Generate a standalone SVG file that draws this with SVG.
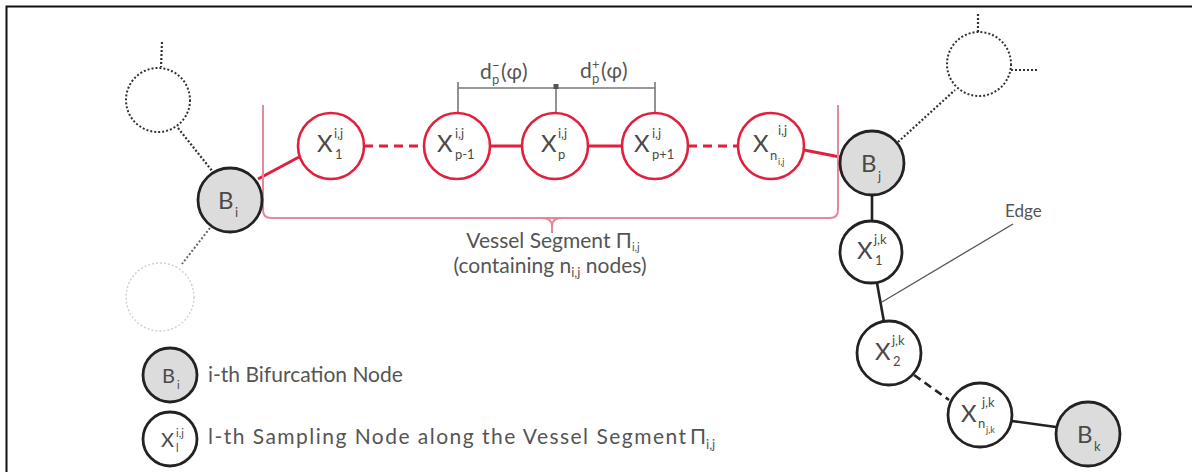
<svg xmlns="http://www.w3.org/2000/svg" width="1192" height="472" viewBox="0 0 1192 472">
<style>
.bg{fill:#fff}
.frame{stroke:#111;stroke-width:2;fill:none}
.rn{fill:#fff;stroke:#e0203c;stroke-width:2.6}
.kn{fill:#fff;stroke:#222;stroke-width:2.8}
.bn{fill:#dcdcdc;stroke:#222;stroke-width:2.8}
.dn{fill:none;stroke:#333;stroke-width:2;stroke-dasharray:2 2}
.fn{fill:none;stroke:#cfcfcf;stroke-width:1.4;stroke-dasharray:2 2}
.rl{stroke:#e0203c;stroke-width:3;fill:none}
.rd{stroke:#e0203c;stroke-width:3;fill:none;stroke-dasharray:9 6}
.kl{stroke:#222;stroke-width:2.6;fill:none}
.kd{stroke:#222;stroke-width:2.6;fill:none;stroke-dasharray:8 5}
.dl{stroke:#333;stroke-width:2.2;fill:none;stroke-dasharray:2 2}
.dlf{stroke:#666;stroke-width:2;fill:none;stroke-dasharray:2 2}
.br{stroke:#e8869c;stroke-width:2;fill:none}
.dim{stroke:#777;stroke-width:1.6;fill:none}
.ptr{stroke:#555;stroke-width:1.3;fill:none}
text{font-family:Lato,"Open Sans","Liberation Sans",sans-serif;fill:#4a4a4a}
.L{font-size:24px}
.s{font-size:13px}
.t{font-size:21px;fill:#555}
.e{font-size:17px;fill:#555}
</style>
<rect class="bg" x="0" y="0" width="1192" height="472"/>
<path class="frame" d="M6.5,472 V6.5 H1192"/>

<g id="connectors">
  <line class="dl" x1="162" y1="42" x2="161" y2="67"/>
  <line class="dl" x1="178" y1="128" x2="213" y2="172"/>
  <line class="dlf" x1="210" y1="228" x2="182" y2="264"/>
  <line class="rl" x1="258" y1="179" x2="299" y2="157"/>
  <line class="rd" x1="364" y1="146" x2="424" y2="146"/>
  <line class="rl" x1="490" y1="146" x2="522" y2="146"/>
  <line class="rl" x1="588" y1="146" x2="622" y2="146"/>
  <line class="rd" x1="688" y1="146" x2="738" y2="146"/>
  <line class="rl" x1="804" y1="150" x2="840" y2="157"/>
  <line class="dl" x1="898" y1="142" x2="955" y2="90"/>
  <line class="dl" x1="978" y1="14" x2="978" y2="32"/>
  <line class="dl" x1="1011" y1="70" x2="1038" y2="70"/>
  <line class="kl" x1="872" y1="195" x2="872" y2="221"/>
  <line class="kl" x1="877" y1="283" x2="884" y2="322"/>
  <line class="kd" x1="914" y1="375" x2="949" y2="400"/>
  <line class="kl" x1="1012" y1="421" x2="1056" y2="427"/>
</g>

<g id="bracket">
  <path class="br" d="M263,105 V210 Q263,218 271,218 H830 Q838,218 838,210 V105"/>
  <path class="br" d="M542,218 Q552,218 552,226 V233 M562,218 Q552,218 552,226"/>
</g>

<g id="dimension">
  <line class="dim" x1="458" y1="88" x2="655" y2="88"/>
  <line class="dim" x1="458" y1="82" x2="458" y2="113"/>
  <line class="dim" x1="556" y1="86" x2="556" y2="113"/>
  <line class="dim" x1="655" y1="82" x2="655" y2="113"/>
  <rect x="553.5" y="84" width="5" height="5" fill="#555"/>
  <text class="t" y="79"><tspan x="480">d</tspan><tspan class="s" x="492" dy="-9">−</tspan><tspan class="s" x="492" dy="14">p</tspan><tspan x="501" dy="-5">(φ)</tspan></text>
  <text class="t" y="78"><tspan x="580">d</tspan><tspan class="s" x="592" dy="-9">+</tspan><tspan class="s" x="592" dy="14">p</tspan><tspan x="601" dy="-5">(φ)</tspan></text>
</g>

<g id="ghost-tl">
  <circle class="dn" cx="158" cy="100" r="32"/>
</g>
<g id="ghost-bl">
  <circle class="fn" cx="160" cy="297" r="34"/>
</g>
<g id="ghost-tr">
  <circle class="dn" cx="979" cy="64" r="32"/>
</g>

<g id="Bi">
  <circle class="bn" cx="230" cy="200" r="32"/>
  <text class="L" x="218" y="209">B</text><text class="s" x="235" y="217">i</text>
</g>

<g id="X1ij">
  <circle class="rn" cx="331" cy="146" r="33"/>
  <text class="L" x="317" y="152">X</text><text class="s" x="334" y="138">i,j</text><text class="s" x="335" y="159">1</text>
</g>
<g id="Xpm1ij">
  <circle class="rn" cx="457" cy="146" r="33"/>
  <text class="L" x="437" y="152">X</text><text class="s" x="455" y="138">i,j</text><text class="s" x="455" y="159">p-1</text>
</g>
<g id="Xpij">
  <circle class="rn" cx="555" cy="146" r="33"/>
  <text class="L" x="541" y="152">X</text><text class="s" x="558" y="138">i,j</text><text class="s" x="558" y="159">p</text>
</g>
<g id="Xpp1ij">
  <circle class="rn" cx="655" cy="146" r="33"/>
  <text class="L" x="634" y="152">X</text><text class="s" x="652" y="138">i,j</text><text class="s" x="652" y="159">p+1</text>
</g>
<g id="Xnij">
  <circle class="rn" cx="771" cy="146" r="33"/>
  <text class="L" x="753" y="152">X</text><text class="s" x="778" y="135">i,j</text><text class="s" x="770" y="160">n</text><text style="font-size:9px" x="778" y="165">i,j</text>
</g>

<g id="Bj">
  <circle class="bn" cx="872" cy="163" r="32"/>
  <text class="L" x="861" y="172">B</text><text class="s" x="878" y="181">j</text>
</g>

<g id="X1jk">
  <circle class="kn" cx="871" cy="252" r="31"/>
  <text class="L" x="857" y="259">X</text><text class="s" x="874" y="244">j,k</text><text class="s" x="875" y="265">1</text>
</g>
<g id="X2jk">
  <circle class="kn" cx="889" cy="353" r="32"/>
  <text class="L" x="875" y="360">X</text><text class="s" x="892" y="345">j,k</text><text class="s" x="893" y="366">2</text>
</g>
<g id="Xnjk">
  <circle class="kn" cx="980" cy="415" r="32"/>
  <text class="L" x="961" y="422">X</text><text class="s" x="982" y="407">j,k</text><text class="s" x="978" y="428">n</text><text style="font-size:9px" x="986" y="433">j,k</text>
</g>
<g id="Bk">
  <circle class="bn" cx="1088" cy="434" r="32"/>
  <text class="L" x="1077" y="443">B</text><text class="s" x="1094" y="451">k</text>
</g>

<g id="edge-label">
  <line class="ptr" x1="1013" y1="224" x2="882" y2="302"/>
  <text class="e" x="1005" y="217">Edge</text>
</g>

<g id="segment-label">
  <text class="t" x="553" y="248" text-anchor="middle">Vessel Segment Π<tspan style="font-size:11px" dy="3">i,j</tspan></text>
  <text class="t" x="550" y="273" text-anchor="middle">(containing n<tspan class="s" dy="4">i,j</tspan><tspan dy="-4"> nodes)</tspan></text>
</g>

<g id="legend">
  <circle class="bn" cx="170" cy="375" r="27"/>
  <text style="font-size:20px" x="162" y="383">B</text><text x="177" y="389" style="font-size:11px">i</text>
  <text class="t" x="208" y="382">i-th Bifurcation Node</text>
  <circle class="kn" cx="170" cy="439" r="27"/>
  <text style="font-size:20px" x="161" y="447">X</text><text style="font-size:11px" x="176" y="437">i,j</text><text style="font-size:11px" x="176" y="452">l</text>
  <text class="t" x="208" y="444"><tspan textLength="478" lengthAdjust="spacing">l-th Sampling Node along the Vessel Segment</tspan><tspan x="690">Π</tspan><tspan class="s" dy="5">i,j</tspan></text>
</g>
</svg>
